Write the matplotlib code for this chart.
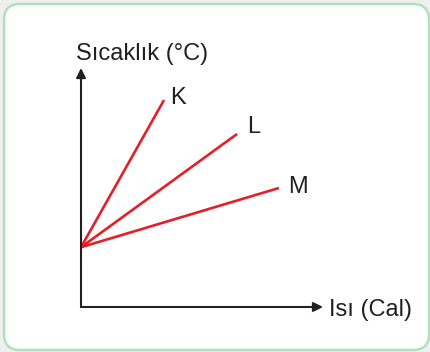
import matplotlib.pyplot as plt
from matplotlib.patches import FancyBboxPatch

plt.rcParams['font.family'] = ['Liberation Sans', 'DejaVu Sans']

# data (arbitrary units; axes span 0..10 each way)
substances = ["K", "L", "M"]
start_heat = [0.0, 0.0, 0.0]
start_temp = [2.5, 2.5, 2.5]
end_heat = [3.43, 6.45, 8.18]
end_temp = [8.66, 7.24, 4.98]
label_pos = [(3.68, 8.49), (6.86, 7.28), (8.55, 4.77)]

x_label = "Isı (Cal)"
y_label = "Sıcaklık (°C)"

W, H = 430, 352
RED = "#e61e28"
INK = "#231f20"

fig = plt.figure(figsize=(W / 100, H / 100), dpi=100)
fig.patch.set_facecolor("#eef0f0")

# card background with rounded green border
bg = fig.add_axes([0, 0, 1, 1])
bg.set_xlim(0, W)
bg.set_ylim(H, 0)
bg.axis("off")
card = FancyBboxPatch((4 + 16, 4 + 16), 425 - 32, 346 - 32,
                      boxstyle="round,pad=16",
                      facecolor="white", edgecolor="#b3dfc1", linewidth=1.8)
bg.add_patch(card)

# chart area
x0, x1, y_top, y_bot = 81, 323, 68, 307
ax = fig.add_axes([x0 / W, 1 - y_bot / H, (x1 - x0) / W, (y_bot - y_top) / H])
ax.set_xlim(0, 10)
ax.set_ylim(0, 10)
ax.axis("off")

arrow = dict(arrowstyle="-|>", color=INK, lw=1.5, shrinkA=0, shrinkB=0,
             mutation_scale=14)
ax.annotate("", xy=(0, 1), xytext=(0, 0), xycoords="axes fraction",
            arrowprops=arrow)
ax.annotate("", xy=(1, 0), xytext=(0, 0), xycoords="axes fraction",
            arrowprops=arrow)

for name, hx, ht, ex, et, (lx, ly) in zip(substances, start_heat, start_temp,
                                          end_heat, end_temp, label_pos):
    ax.plot([hx, ex], [ht, et], color=RED, lw=1.9, solid_capstyle="butt")
    ax.text(lx, ly, name, fontsize=17, color=INK, ha="left", va="baseline")

ax.text(-0.02, 1.033, y_label, transform=ax.transAxes, fontsize=17,
        color=INK, ha="left", va="baseline")
ax.text(1.025, -0.038, x_label, transform=ax.transAxes, fontsize=17,
        color=INK, ha="left", va="baseline", clip_on=False)

fig.savefig("out.png", dpi=100)
